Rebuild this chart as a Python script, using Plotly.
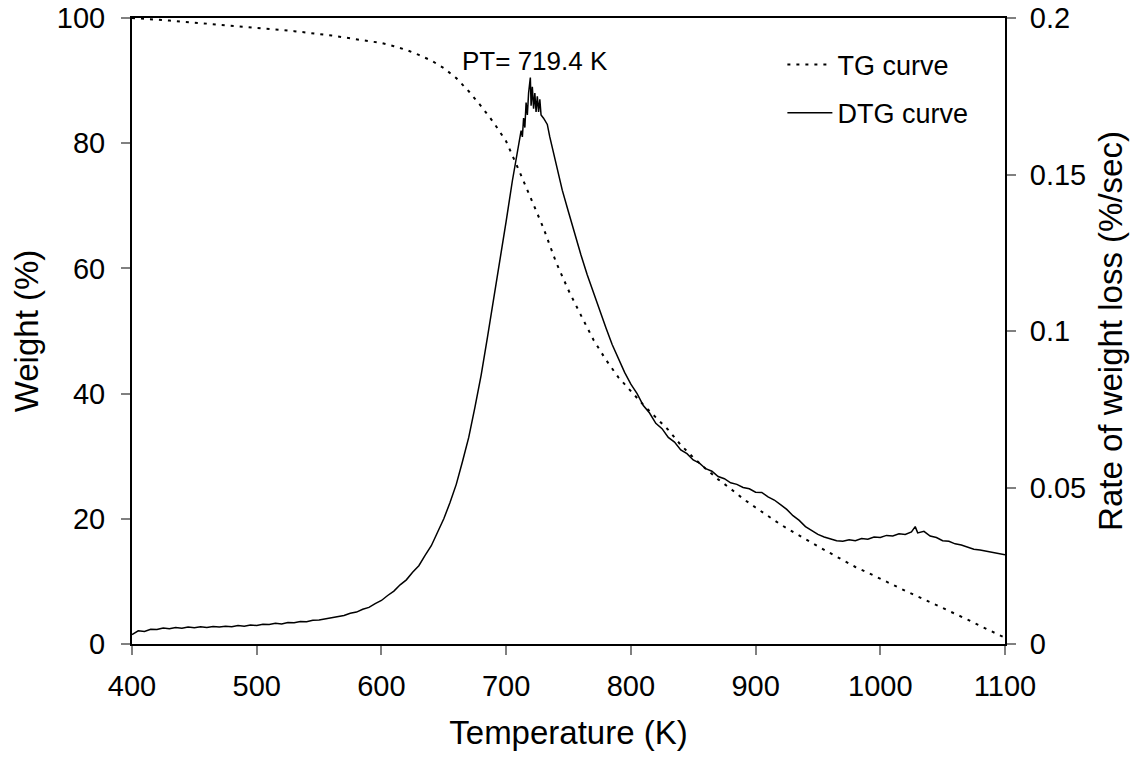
import plotly.graph_objects as go

# TG curve (weight %, left axis)
tg_T = [400, 410, 420, 430, 440, 450, 460, 470, 480, 490, 500, 510, 520, 530, 540, 550, 560, 570, 580, 590,
        600, 610, 620, 630, 640, 650, 660, 670, 680, 690, 700, 710, 720, 730, 740, 750, 760, 770, 780, 790,
        800, 810, 820, 830, 840, 850, 860, 870, 880, 890, 900, 910, 920, 930, 940, 950, 960, 970, 980, 990,
        1000, 1010, 1020, 1030, 1040, 1050, 1060, 1070, 1080, 1090, 1100]
tg_w = [100, 99.9, 99.7, 99.6, 99.4, 99.3, 99.1, 98.9, 98.8, 98.6, 98.4, 98.3, 98.1, 97.9, 97.7, 97.5, 97.2, 96.9, 96.6, 96.3,
        96.0, 95.5, 94.9, 94.1, 93.2, 92.0, 90.4, 88.3, 85.9, 83.3, 80.3, 75.8, 71.0, 66.4, 61.0, 56.5, 52.5, 48.6, 45.4, 42.6,
        40.4, 38.2, 36.2, 34.2, 31.8, 29.8, 28.0, 26.3, 24.8, 23.2, 21.8, 20.4, 19.1, 17.9, 16.7, 15.6, 14.5, 13.4, 12.3, 11.4,
        10.4, 9.4, 8.5, 7.6, 6.7, 5.8, 4.8, 3.9, 2.9, 2.0, 1.0]

# DTG curve (rate of weight loss %/sec, right axis)
dtg_T = [400, 405, 410, 415, 420, 425, 430, 435, 440, 445, 450, 455, 460, 465, 470, 475, 480, 485, 490, 495,
         500, 505, 510, 515, 520, 525, 530, 535, 540, 545, 550, 555, 560, 565, 570, 575, 580, 585, 590, 595,
         600, 605, 610, 615, 620, 625, 630, 635, 640, 645, 650, 655, 660, 665, 670, 675, 680, 685, 690, 695,
         700, 705, 708, 710, 712, 713, 714, 715, 716, 717, 718, 719.4, 720, 721, 722, 723, 724, 725, 726, 727,
         728, 730, 733, 735, 740, 745, 750, 755, 760, 765, 770, 775, 780, 785, 790, 795, 800, 805, 810, 815,
         820, 825, 830, 835, 840, 845, 850, 855, 860, 865, 870, 875, 880, 885, 890, 895, 900, 905, 910, 915,
         920, 925, 930, 935, 940, 945, 950, 955, 960, 965, 970, 975, 980, 985, 990, 995, 1000, 1005, 1010, 1015,
         1020, 1025, 1028, 1030, 1035, 1040, 1045, 1050, 1055, 1060, 1065, 1070, 1075, 1080, 1085, 1090, 1095, 1100]
dtg_r = [0.0030, 0.0042, 0.0040, 0.0047, 0.0046, 0.0051, 0.0049, 0.0053, 0.0050, 0.0054, 0.0052, 0.0055, 0.0053, 0.0056, 0.0054, 0.0057, 0.0055, 0.0059, 0.0057, 0.0061,
         0.0059, 0.0063, 0.0062, 0.0066, 0.0064, 0.0069, 0.0068, 0.0072, 0.0071, 0.0076, 0.0077, 0.0081, 0.0083, 0.0089, 0.0091, 0.0098, 0.0102, 0.0111, 0.0117, 0.0129,
         0.0139, 0.0155, 0.0169, 0.0189, 0.0205, 0.0229, 0.0250, 0.0283, 0.0314, 0.0357, 0.0400, 0.0452, 0.0510, 0.0583, 0.0660, 0.0757, 0.0860, 0.0980, 0.1100, 0.1230,
         0.1350, 0.1480, 0.1550, 0.1590, 0.1640, 0.1620, 0.1680, 0.1650, 0.1730, 0.1690, 0.1760, 0.1810, 0.1720, 0.1780, 0.1710, 0.1760, 0.1700, 0.1750, 0.1700, 0.1740,
         0.1690, 0.1680, 0.1660, 0.1620, 0.1530, 0.1450, 0.1380, 0.1310, 0.1243, 0.1180, 0.1121, 0.1065, 0.1010, 0.0957, 0.0910, 0.0868, 0.0830, 0.0800, 0.0762, 0.0738,
         0.0705, 0.0688, 0.0660, 0.0645, 0.0620, 0.0608, 0.0588, 0.0578, 0.0560, 0.0552, 0.0535, 0.0528, 0.0515, 0.0510, 0.0500, 0.0496, 0.0485, 0.0484, 0.0470, 0.0460,
         0.0445, 0.0430, 0.0410, 0.0395, 0.0375, 0.0362, 0.0350, 0.0342, 0.0335, 0.0330, 0.0328, 0.0333, 0.0330, 0.0337, 0.0335, 0.0342, 0.0340, 0.0347, 0.0345, 0.0352,
         0.0350, 0.0358, 0.0375, 0.0355, 0.0360, 0.0345, 0.0340, 0.0330, 0.0328, 0.0320, 0.0316, 0.0310, 0.0303, 0.0300, 0.0296, 0.0292, 0.0290, 0.0285]

x_ticks = [400, 500, 600, 700, 800, 900, 1000, 1100]
y_ticks = [0, 20, 40, 60, 80, 100]
y2_ticks = [0, 0.05, 0.1, 0.15, 0.2]
y2_labels = ["0", "0.05", "0.1", "0.15", "0.2"]

FONT = "Liberation Sans, Arial, sans-serif"

fig = go.Figure()
fig.add_trace(go.Scatter(x=tg_T, y=tg_w, mode="lines", name="TG curve",
                         line=dict(color="black", width=2, dash="3px,6px"),
                         legendgroup="a", yaxis="y"))
fig.add_trace(go.Scatter(x=dtg_T, y=dtg_r, mode="lines", name="DTG curve",
                         line=dict(color="black", width=1.5),
                         legendgroup="b", yaxis="y2"))

fig.add_annotation(x=723, y=93.2, xref="x", yref="y", text="PT= 719.4 K", showarrow=False,
                   font=dict(family=FONT, size=26, color="black"))

fig.update_layout(
    width=1140, height=758, autosize=False,
    margin=dict(l=132, r=135, t=18, b=114, autoexpand=False),
    paper_bgcolor="white", plot_bgcolor="white",
    font=dict(family=FONT, color="black"),
    showlegend=True,
    legend=dict(x=0.745, y=0.964, xanchor="left", yanchor="top", itemwidth=45,
                bgcolor="rgba(0,0,0,0)", font=dict(family=FONT, size=27, color="black"),
                tracegroupgap=10, traceorder="grouped"),
    xaxis=dict(range=[400, 1100], tickvals=x_ticks, showgrid=False, zeroline=False, automargin=False,
               showline=True, linecolor="black", linewidth=2, mirror=True,
               ticks="outside", ticklen=9, tickcolor="#808080", tickwidth=1.5,
               tickfont=dict(family=FONT, size=29, color="black"), ticklabelstandoff=6,
               title=dict(text="Temperature (K)", font=dict(family=FONT, size=33, color="black"), standoff=20)),
    yaxis=dict(range=[0, 100], tickvals=y_ticks, showgrid=False, zeroline=False, automargin=False,
               showline=True, linecolor="black", linewidth=2,
               ticks="outside", ticklen=9, tickcolor="#808080", tickwidth=1.5,
               tickfont=dict(family=FONT, size=29, color="black"), ticklabelstandoff=10,
               title=dict(text="Weight (%)", font=dict(family=FONT, size=33, color="black"), standoff=8)),
    yaxis2=dict(range=[0, 0.2], tickvals=y2_ticks, ticktext=y2_labels, overlaying="y", side="right",
                showgrid=False, zeroline=False, showline=True, linecolor="black", linewidth=2, automargin=False,
                ticks="outside", ticklen=9, tickcolor="#808080", tickwidth=1.5,
                tickfont=dict(family=FONT, size=29, color="black"), ticklabelstandoff=8,
                title=dict(text="Rate of weight loss (%/sec)", font=dict(family=FONT, size=33, color="black"), standoff=14)),
)

fig.write_html("out.html")
